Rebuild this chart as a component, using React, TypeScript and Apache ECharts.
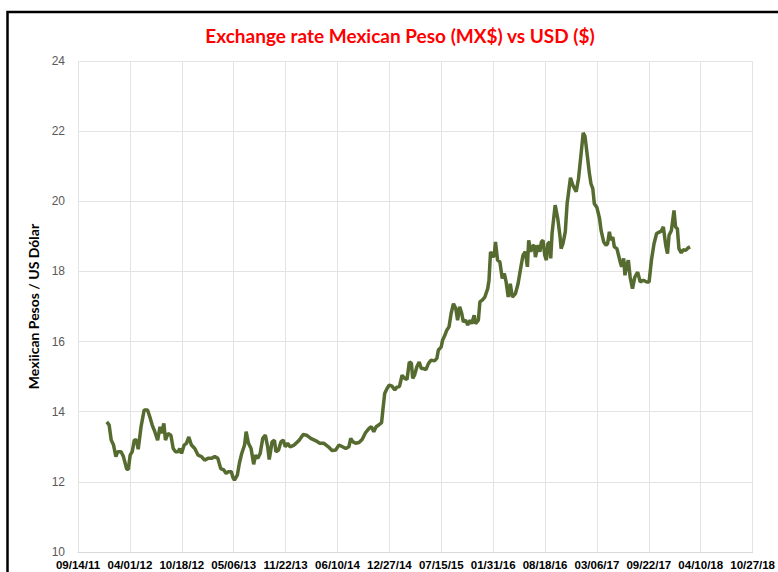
import React, { useEffect, useRef } from "react";
import * as echarts from "echarts";

// x values: days since 09/14/2011 (axis origin); y values: MX$ per US$
const axisStart = Date.UTC(2011, 8, 14);
const daysSinceStart = [
  111, 120, 128, 137, 146, 153, 166, 175, 188, 194, 201, 209, 217, 225, 232, 243, 255, 268, 277, 286,
  296, 307, 316, 322, 331, 337, 347, 358, 367, 376, 386, 392, 399, 409, 418, 427, 437, 450, 463, 476,
  488, 501, 514, 527, 539, 550, 562, 571, 580, 591, 597, 603, 614, 622, 631, 642, 648, 657, 667, 677,
  684, 693, 702, 712, 722, 731, 737, 748, 757, 763, 773, 782, 791, 799, 808, 817, 833, 853, 868, 881,
  897, 917, 932, 948, 965, 980, 993, 1006, 1019, 1032, 1044, 1051, 1060, 1070, 1083, 1095, 1108, 1121, 1131, 1140,
  1149, 1159, 1170, 1175, 1182, 1191, 1200, 1210, 1221, 1229, 1239, 1249, 1259, 1268, 1277, 1285, 1290, 1297, 1306, 1315,
  1323, 1332, 1341, 1351, 1361, 1374, 1383, 1389, 1400, 1405, 1414, 1421, 1430, 1438, 1447, 1456, 1463, 1471, 1479, 1485,
  1494, 1502, 1511, 1517, 1527, 1532, 1543, 1549, 1558, 1568, 1579, 1584, 1590, 1599, 1604, 1609, 1617, 1626, 1635, 1643,
  1650, 1658, 1666, 1674, 1686, 1696, 1707, 1715, 1724, 1732, 1737, 1745, 1750, 1758, 1763, 1773, 1780, 1786, 1792, 1799,
  1805, 1811, 1818, 1822, 1827, 1839, 1849, 1858, 1862, 1869, 1878, 1885, 1898, 1907, 1920, 1929, 1939, 1947, 1954, 1962,
  1971, 1977, 1984, 1990, 2000, 2010, 2016, 2026, 2035, 2041, 2048, 2054, 2061, 2067, 2077, 2088, 2095, 2103, 2108, 2115,
  2121, 2128, 2137, 2146, 2157, 2167, 2179, 2192, 2201, 2210, 2220, 2230, 2240, 2248, 2256, 2265, 2272, 2278, 2287, 2297,
  2303, 2310, 2316, 2325, 2333, 2342, 2351, 2359,
];
const pesoPerDollar = [
  13.71, 13.62, 13.19, 13.05, 12.72, 12.86, 12.86, 12.72, 12.36, 12.36, 12.76, 12.86, 13.19, 13.19, 12.93, 13.57, 14.05, 14.05, 13.85, 13.62,
  13.43, 13.19, 13.57, 13.38, 13.67, 13.19, 13.38, 13.33, 12.95, 12.86, 12.86, 12.95, 12.81, 13.05, 13.1, 13.28, 13.05, 12.95, 12.76, 12.72,
  12.62, 12.67, 12.67, 12.72, 12.67, 12.38, 12.34, 12.24, 12.29, 12.29, 12.13, 12.05, 12.19, 12.53, 12.81, 13.05, 13.43, 13.1, 12.95, 12.5,
  12.76, 12.67, 12.81, 13.24, 13.33, 13.0, 12.64, 13.14, 13.19, 12.86, 12.91, 13.14, 13.19, 13.0, 13.1, 13.0, 13.05, 13.19, 13.35, 13.33,
  13.24, 13.17, 13.1, 13.1, 13.0, 12.89, 12.91, 13.05, 13.0, 12.95, 13.0, 13.24, 13.14, 13.1, 13.12, 13.21, 13.4, 13.52, 13.57, 13.43,
  13.57, 13.62, 13.69, 14.05, 14.52, 14.66, 14.76, 14.73, 14.62, 14.7, 14.72, 15.04, 14.95, 14.92, 15.42, 15.38, 14.95, 15.04, 15.28, 15.42,
  15.23, 15.23, 15.2, 15.38, 15.47, 15.45, 15.52, 15.76, 15.85, 16.04, 16.18, 16.32, 16.42, 16.8, 17.08, 16.94, 16.61, 16.99, 16.8, 16.56,
  16.61, 16.47, 16.61, 16.51, 16.75, 16.51, 16.61, 17.13, 17.18, 17.27, 17.51, 17.75, 18.56, 18.41, 18.46, 18.84, 18.32, 18.27, 17.8, 17.94,
  17.7, 17.27, 17.65, 17.27, 17.37, 17.65, 18.13, 18.46, 18.56, 18.13, 18.89, 18.56, 18.7, 18.75, 18.41, 18.75, 18.56, 18.84, 18.89, 18.46,
  18.32, 18.79, 18.84, 18.37, 19.08, 19.89, 19.51, 18.98, 18.65, 18.79, 19.13, 19.93, 20.67, 20.46, 20.27, 20.65, 21.36, 21.95, 21.85, 21.36,
  20.79, 20.5, 20.36, 19.93, 19.82, 19.51, 19.17, 18.84, 18.75, 18.79, 19.13, 18.89, 18.98, 18.7, 18.65, 18.32, 18.13, 18.37, 17.89, 18.18,
  18.32, 17.84, 17.51, 17.84, 17.98, 17.7, 17.75, 17.7, 17.7, 18.32, 18.79, 19.08, 19.12, 19.15, 19.27, 18.75, 18.51, 19.03, 19.17, 19.74,
  19.27, 19.22, 18.65, 18.53, 18.62, 18.6, 18.67, 18.7,
];
const xTickStepDays = 200;
const xMaxDays = 2600;
const yTicks = [10, 12, 14, 16, 18, 20, 22, 24];

const titleText = "Exchange rate Mexican Peso (MX$) vs USD ($)";
const yAxisTitle = "Mexiican Pesos / US Dólar";

function fmtDate(days: number): string {
  const d = new Date(axisStart + Math.round(days) * 86400000);
  const mm = String(d.getUTCMonth() + 1).padStart(2, "0");
  const dd = String(d.getUTCDate()).padStart(2, "0");
  const yy = String(d.getUTCFullYear() % 100).padStart(2, "0");
  return `${mm}/${dd}/${yy}`;
}

export default function App() {
  const ref = useRef<HTMLDivElement>(null);
  useEffect(() => {
    if (!ref.current) return;
    const chart = echarts.init(ref.current, undefined, { renderer: "svg" });
    const seriesData = daysSinceStart.map((d, i) => [d, pesoPerDollar[i]]);
    chart.setOption({
      animation: false,
      backgroundColor: "#ffffff",
      grid: { left: 78, right: 22, top: 61, bottom: 20, containLabel: false },
      xAxis: {
        type: "value",
        min: 0,
        max: xMaxDays,
        interval: xTickStepDays,
        axisLine: { show: true, lineStyle: { color: "#D9D9D9", width: 1 } },
        axisTick: { show: false },
        splitLine: { show: true, lineStyle: { color: "#E3E3E3", width: 1 } },
        axisLabel: {
          formatter: (v: number) => fmtDate(v),
          color: "#000000",
          fontFamily: "Liberation Sans, Arial, sans-serif",
          fontWeight: "bold",
          fontSize: 11.5,
          margin: 7,
          showMinLabel: true,
          showMaxLabel: true,
          hideOverlap: false,
        },
      },
      yAxis: {
        type: "value",
        min: yTicks[0],
        max: yTicks[yTicks.length - 1],
        interval: 2,
        name: yAxisTitle,
        nameLocation: "middle",
        nameGap: 35,
        nameRotate: 90,
        nameTextStyle: {
          color: "#000000",
          fontFamily: "Lato, Open Sans, sans-serif",
          fontWeight: "bold",
          fontSize: 14,
        },
        axisLine: { show: false },
        axisTick: { show: false },
        splitLine: { show: true, lineStyle: { color: "#E3E3E3", width: 1 } },
        axisLabel: {
          color: "#595959",
          fontFamily: "Liberation Sans, Arial, sans-serif",
          fontSize: 12,
          margin: 13,
        },
      },
      graphic: [
        {
          type: "rect",
          silent: true,
          z: 100,
          shape: { x: 7.5, y: 12, width: 900, height: 700 },
          style: { fill: "none", stroke: "#000000", lineWidth: 2.5 },
        },
        {
          type: "text",
          x: 400,
          y: 35,
          style: {
            text: titleText,
            fill: "#FF0000",
            font: "bold 19px Lato, 'Open Sans', sans-serif",
            textAlign: "center",
            textVerticalAlign: "middle",
          },
        },
      ],
      series: [
        {
          type: "line",
          data: seriesData,
          showSymbol: false,
          symbol: "none",
          lineStyle: { color: "#556B2F", width: 3.5 },
          itemStyle: { color: "#556B2F" },
        },
      ],
    });
    return () => chart.dispose();
  }, []);
  return (
    <div style={{ position: "fixed", left: 0, top: 0, width: 778, height: 572, overflow: "hidden", background: "#fff" }}>
      <div ref={ref} style={{ width: 778, height: 572 }} />
    </div>
  );
}
